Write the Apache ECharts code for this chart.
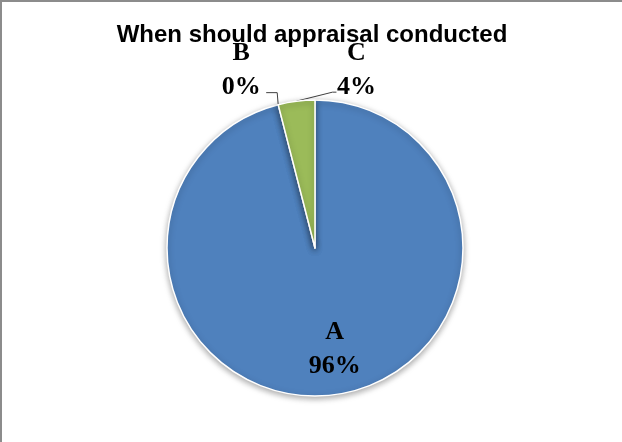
<!DOCTYPE html>
<html><head><meta charset="utf-8">
<script src="https://cdn.jsdelivr.net/npm/echarts@6/dist/echarts.min.js"></script>
<style>
html,body{margin:0;padding:0;background:#fff;}
#c{width:620px;height:440px;border-top:2px solid #8c8c8c;border-left:2px solid #8c8c8c;}
</style></head>
<body><div id="c"></div>
<script>
const titleText = 'When should appraisal conducted';
const categories = ['A', 'B', 'C'];
const values = [96, 0, 4];
const colors = ['#4F81BD', '#C0504D', '#9BBB59'];

const chart = echarts.init(document.getElementById('c'));
const labelFont = { fontFamily: 'Liberation Serif', fontWeight: 'bold', fontSize: 26, color: '#000', lineHeight: 34 };

chart.setOption({
  animation: false,
  title: {
    text: titleText, left: 'center', top: 16,
    textStyle: { fontFamily: 'Liberation Sans', fontWeight: 'bold', fontSize: 24, color: '#000' }
  },
  series: [{
    type: 'pie',
    center: [313, 246],
    radius: 148,
    startAngle: 90,
    clockwise: true,
    avoidLabelOverlap: false,
    data: categories.map((c, i) => ({
      name: c, value: values[i],
      itemStyle: { color: colors[i] },
      label: { position: i === 0 ? 'inside' : 'outside' },
      labelLine: { show: i !== 0 }
    })),
    itemStyle: { borderColor: '#fff', borderWidth: 1.5, shadowBlur: 6, shadowColor: 'rgba(0,0,0,0.35)', shadowOffsetY: 2 },
    label: Object.assign({ formatter: '{b}\n{d}%' }, labelFont),
    labelLine: { lineStyle: { color: '#404040', width: 1 }, length: 10, length2: 10 },
    labelLayout: function (p) {
      if (p.dataIndex === 0) return { dx: 10, dy: 25 };
      const pts = p.labelLinePoints;
      if (!pts) return {};
      const x0 = pts[0][0], y0 = pts[0][1];
      if (p.dataIndex === 1) {
        return {
          x: x0 - 37, y: y0 - 34, align: 'center', verticalAlign: 'middle',
          labelLinePoints: [[x0, y0], [x0 - 1, y0 - 12], [x0 - 12, y0 - 12]]
        };
      }
      return {
        x: x0 + 60, y: y0 - 31, align: 'center', verticalAlign: 'middle',
        labelLinePoints: [[x0, y0], [x0 + 36, y0 - 9], [x0 + 40, y0 - 9]]
      };
    }
  }]
});
</script></body></html>
